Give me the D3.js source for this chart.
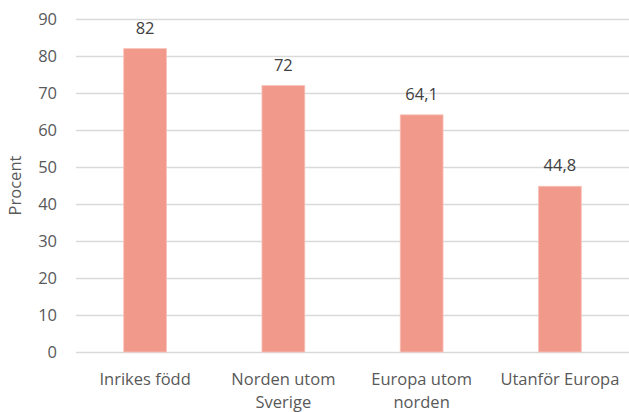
<!DOCTYPE html>
<html lang="sv">
<head>
  <meta charset="UTF-8">
  <title>Procent</title>
  <style>
    body { margin: 0; background: #fff; }
    svg text { font-family: "Open Sans", sans-serif; }
  </style>
</head>
<body>
  <div class="container"></div>
  <script src="https://d3js.org/d3.v7.min.js"></script>
  <script>
    const categories = [["Inrikes född"], ["Norden utom", "Sverige"], ["Europa utom", "norden"], ["Utanför Europa"]]
    const values = [82, 72, 64.1, 44.8]
    const yTicks = [0, 10, 20, 30, 40, 50, 60, 70, 80, 90]

    let W = 629, H = 412
    let m = { left: 76, right: 0, top: 19, bottom: 60 }
    let w = W - m.left - m.right
    let h = H - m.top - m.bottom
    let fs = '16.5px'

    let svg = d3.select('.container')
      .append('svg')
      .attr('width', W)
      .attr('height', H)

    let g = svg.append('g')
      .attr('transform', `translate(${m.left}, ${m.top})`)

    let x = d3.scaleBand()
      .domain(d3.range(categories.length))
      .range([0, w])
      .paddingInner(0.69)
      .paddingOuter(0.345)

    let y = d3.scaleLinear()
      .domain([0, 90])
      .range([h, 0])

    // rutnät
    g.append('g')
      .selectAll('line')
      .data(yTicks)
      .enter()
      .append('line')
      .attr('x1', 0)
      .attr('x2', w)
      .attr('y1', d => Math.round(y(d)) + 0.5)
      .attr('y2', d => Math.round(y(d)) + 0.5)
      .attr('stroke', '#d9d9d9')
      .attr('stroke-width', 1.3)

    // y-axel
    let yAxis = d3.axisLeft(y)
      .tickValues(yTicks)
      .tickSize(0)
      .tickPadding(19)
    let ya = g.append('g').call(yAxis)
    ya.select('.domain').remove()
    ya.selectAll('text')
      .attr('fill', '#595959')
      .style('font-size', fs)

    // staplar
    g.selectAll('.bar')
      .data(values)
      .enter()
      .append('rect')
      .attr('class', 'bar')
      .attr('x', (d, i) => x(i))
      .attr('y', d => y(d))
      .attr('width', x.bandwidth())
      .attr('height', d => h - y(d))
      .attr('fill', '#f1998a')
      .attr('stroke', '#f8c4bb')
      .attr('stroke-width', 0.8)

    // värdeetiketter
    g.selectAll('.val')
      .data(values)
      .enter()
      .append('text')
      .attr('class', 'val')
      .attr('x', (d, i) => x(i) + x.bandwidth() / 2)
      .attr('y', d => y(d) - 15)
      .attr('text-anchor', 'middle')
      .attr('fill', '#404040')
      .style('font-size', fs)
      .text(d => String(d).replace('.', ','))

    // kategorietiketter
    let cat = g.selectAll('.cat')
      .data(categories)
      .enter()
      .append('text')
      .attr('class', 'cat')
      .attr('text-anchor', 'middle')
      .attr('fill', '#595959')
      .style('font-size', fs)
    cat.each(function (d, i) {
      d.forEach((line, j) => {
        d3.select(this).append('tspan')
          .attr('x', x(i) + x.bandwidth() / 2)
          .attr('y', h + 33 + j * 23)
          .text(line)
      })
    })

    // y-axelns titel
    svg.append('text')
      .attr('transform', `translate(21, ${m.top + h / 2}) rotate(-90)`)
      .attr('text-anchor', 'middle')
      .attr('fill', '#595959')
      .style('font-size', fs)
      .text('Procent')
  </script>
</body>
</html>
